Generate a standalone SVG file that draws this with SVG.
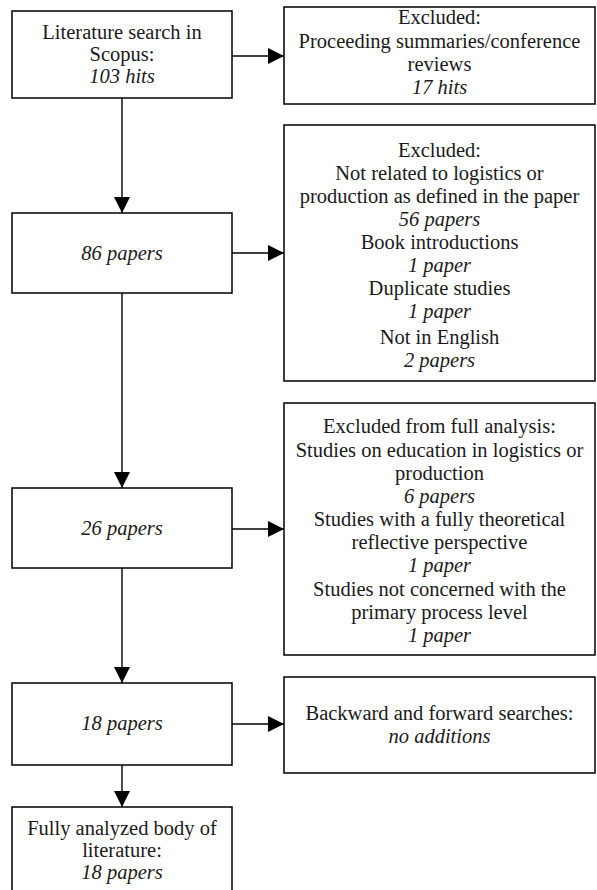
<svg xmlns="http://www.w3.org/2000/svg" width="597" height="890" viewBox="0 0 597 890">
<style>
rect.box{fill:#fff;stroke:#000;stroke-width:1.5}
text{font-family:'Liberation Serif','Times New Roman',serif;font-size:20.5px;fill:#1a1a1a;text-anchor:middle}
.i{font-style:italic}
.c line{stroke:#000;stroke-width:1.4}
</style>
<defs>
<marker id="ah" viewBox="0 0 16 16" refX="16" refY="8" markerWidth="16" markerHeight="16" markerUnits="userSpaceOnUse" orient="auto">
<path d="M0,0 L16,8 L0,16 Z" fill="#000"/>
</marker>
</defs>
<rect width="597" height="890" fill="#fff"/>
<g class="c">
<line x1="122" y1="98" x2="122" y2="213" marker-end="url(#ah)"/>
<line x1="122" y1="293" x2="122" y2="488" marker-end="url(#ah)"/>
<line x1="122" y1="568" x2="122" y2="683" marker-end="url(#ah)"/>
<line x1="122" y1="765" x2="122" y2="807" marker-end="url(#ah)"/>
<line x1="232" y1="56" x2="284" y2="56" marker-end="url(#ah)"/>
<line x1="232" y1="253" x2="284" y2="253" marker-end="url(#ah)"/>
<line x1="232" y1="529" x2="284" y2="529" marker-end="url(#ah)"/>
<line x1="232" y1="724" x2="284" y2="724" marker-end="url(#ah)"/>
</g>
<g id="n1">
<rect class="box" x="12" y="11" width="220" height="87"/>
<text x="122" y="39">Literature search in</text>
<text x="122" y="61">Scopus:</text>
<text x="122" y="83" class="i">103 hits</text>
</g>
<g id="x1">
<rect class="box" x="284" y="7" width="311" height="97"/>
<text x="439.5" y="24">Excluded:</text>
<text x="439.5" y="48">Proceeding summaries/conference</text>
<text x="439.5" y="71">reviews</text>
<text x="439.5" y="94" class="i">17 hits</text>
</g>
<g id="n2">
<rect class="box" x="12" y="213" width="220" height="80"/>
<text x="122" y="260" class="i">86 papers</text>
</g>
<g id="x2">
<rect class="box" x="284" y="125" width="311" height="256"/>
<text x="439.5" y="157">Excluded:</text>
<text x="439.5" y="180">Not related to logistics or</text>
<text x="439.5" y="203">production as defined in the paper</text>
<text x="439.5" y="226" class="i">56 papers</text>
<text x="439.5" y="249">Book introductions</text>
<text x="439.5" y="272" class="i">1 paper</text>
<text x="439.5" y="295">Duplicate studies</text>
<text x="439.5" y="318" class="i">1 paper</text>
<text x="439.5" y="344">Not in English</text>
<text x="439.5" y="367" class="i">2 papers</text>
</g>
<g id="n3">
<rect class="box" x="12" y="488" width="220" height="80"/>
<text x="122" y="535" class="i">26 papers</text>
</g>
<g id="x3">
<rect class="box" x="284" y="403" width="311" height="252"/>
<text x="439.5" y="433">Excluded from full analysis:</text>
<text x="439.5" y="457">Studies on education in logistics or</text>
<text x="439.5" y="480">production</text>
<text x="439.5" y="503" class="i">6 papers</text>
<text x="439.5" y="526">Studies with a fully theoretical</text>
<text x="439.5" y="549">reflective perspective</text>
<text x="439.5" y="572" class="i">1 paper</text>
<text x="439.5" y="596">Studies not concerned with the</text>
<text x="439.5" y="619">primary process level</text>
<text x="439.5" y="642" class="i">1 paper</text>
</g>
<g id="n4">
<rect class="box" x="12" y="683" width="220" height="82"/>
<text x="122" y="730" class="i">18 papers</text>
</g>
<g id="x4">
<rect class="box" x="284" y="677" width="311" height="96"/>
<text x="439.5" y="720">Backward and forward searches:</text>
<text x="439.5" y="743" class="i">no additions</text>
</g>
<g id="n5">
<rect class="box" x="12" y="807" width="220" height="90"/>
<text x="122" y="835">Fully analyzed body of</text>
<text x="122" y="857">literature:</text>
<text x="122" y="879" class="i">18 papers</text>
</g>
</svg>
